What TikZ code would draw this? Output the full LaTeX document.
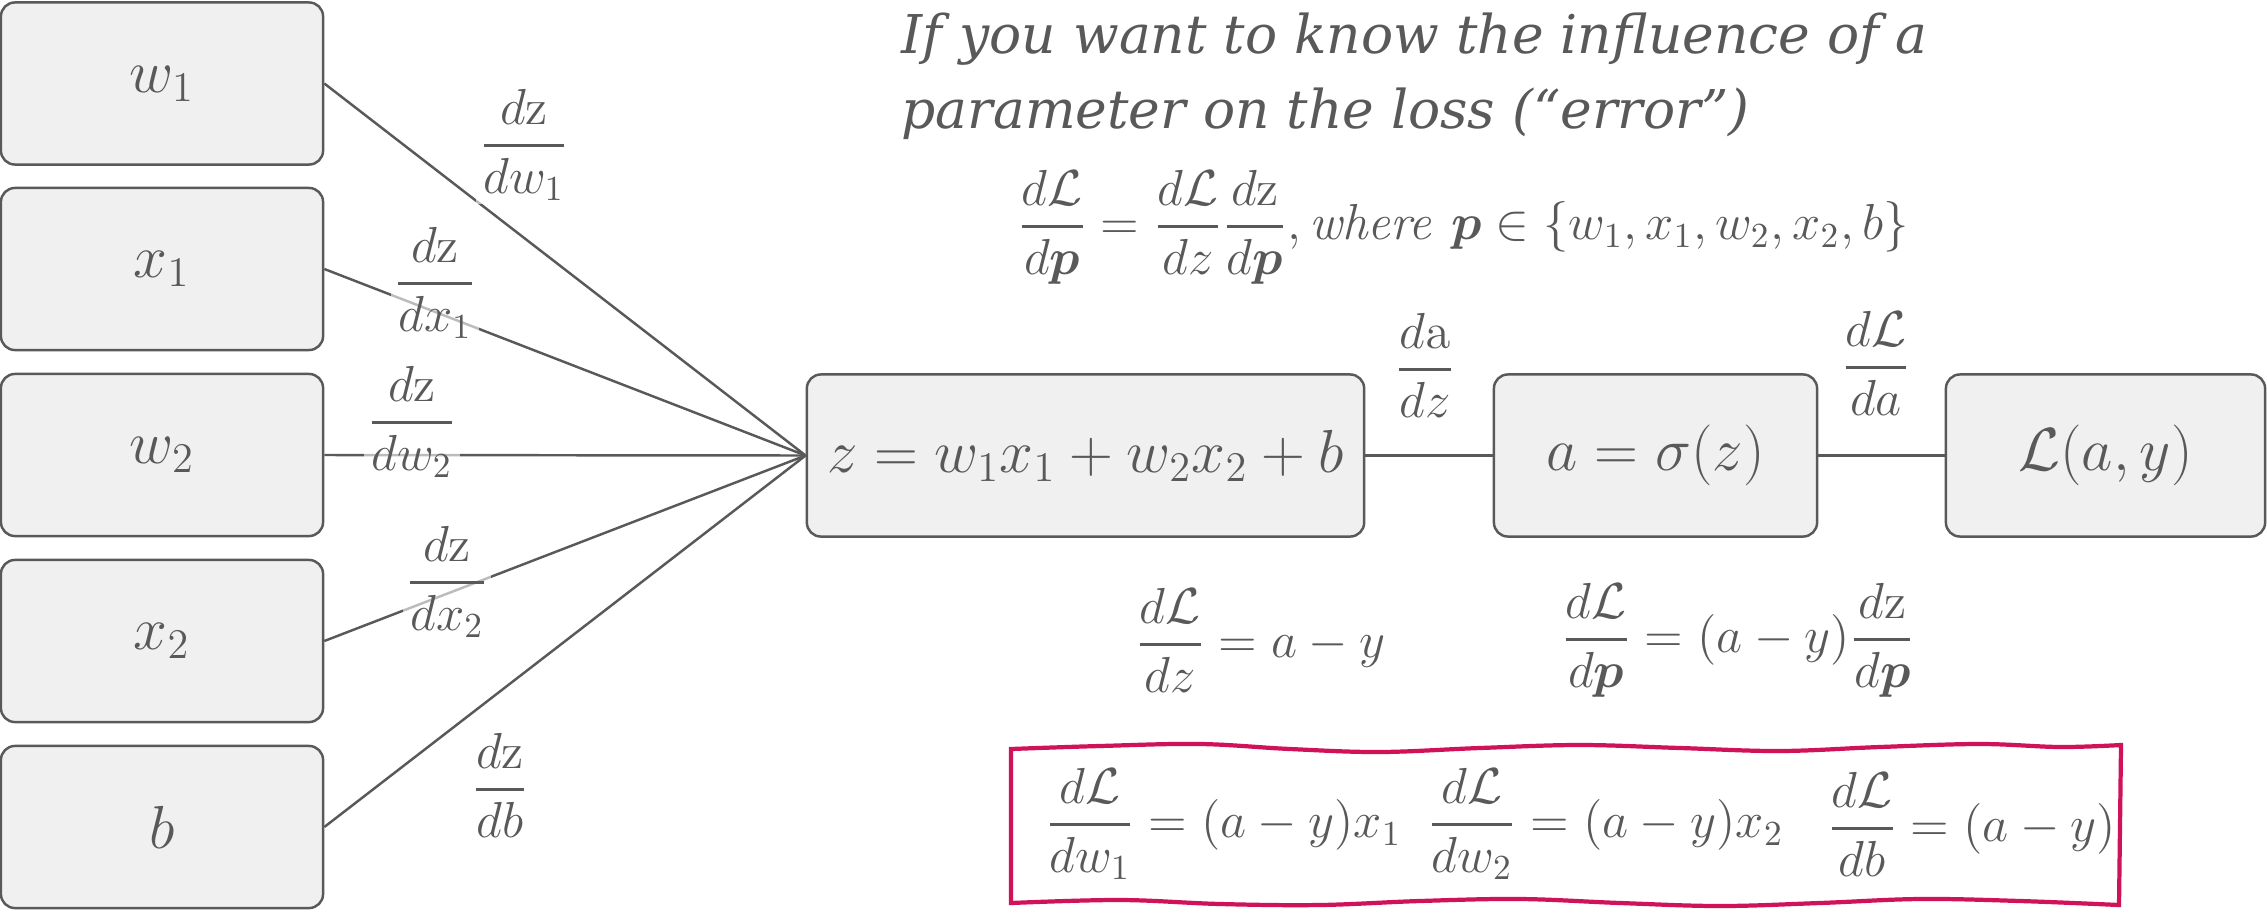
\documentclass[tikz,border=0pt]{standalone}
\usepackage{amsmath,amssymb}
\usepackage[no-math]{fontspec}
\setmainfont{DejaVu Serif}
\usepackage{tikz}
\definecolor{inkgray}{RGB}{89,89,89}
\definecolor{boxfill}{RGB}{240,240,240}
\definecolor{marker}{RGB}{208,18,88}
\newcommand{\pfrac}[2]{\genfrac{}{}{0.8pt}{0}{#1}{#2}}

\begin{document}
\begin{tikzpicture}[
  x=0.01cm,y=-0.01cm,
  color=inkgray,
  var/.style={draw=inkgray,fill=boxfill,rounded corners=0.14cm,line width=0.7pt,
    minimum width=3.22cm,minimum height=1.62cm,inner sep=0pt,font=\fontsize{16.5}{20}\selectfont},
  wire/.style={draw=inkgray,line width=0.7pt},
  grad/.style={font=\fontsize{14}{17}\selectfont,fill=white,fill opacity=0.6,text opacity=1,inner sep=1pt},
  eq/.style={font=\fontsize{14}{17}\selectfont,inner sep=0pt},
  head/.style={font=\fontsize{15.2}{19}\selectfont\itshape,inner sep=0pt},
  frame/.style={draw=marker,line width=1.2pt,fill=white}
]
  \useasboundingbox (0,0) rectangle (2267,912);

  % inputs and parameters
  \node[var] (w1) at (162,83.5) {$w_1$};
  \node[var] (x1) at (162,269) {$x_1$};
  \node[var] (w2) at (162,455) {$w_2$};
  \node[var] (x2) at (162,641) {$x_2$};
  \node[var] (b) at (162,827) {$b$};

  % forward chain
  \node[var,minimum width=5.57cm] (zsum) at (1085.5,455.5) {$z = w_1x_1 + w_2x_2 + b$};
  \node[var,minimum width=3.23cm] (act) at (1655.5,455.5) {$a = \sigma(z)$};
  \node[var,minimum width=3.19cm] (loss) at (2105.5,455.5) {$\mathcal{L}(a,y)$};

  \foreach \v in {w1,x1,w2,x2,b} \draw[wire] (\v.east) -- (zsum.west);
  \draw[wire] (zsum.east) -- (act.west);
  \draw[wire] (act.east) -- (loss.west);

  % local derivatives
  \node[grad] (gw1) at (524,145) {$\pfrac{d\mathrm{z}}{dw_1}$};
  \node[grad] (gx1) at (435,283) {$\pfrac{d\mathrm{z}}{dx_1}$};
  \node[grad] (gw2) at (412,422) {$\pfrac{d\mathrm{z}}{dw_2}$};
  \node[grad] (gx2) at (447,582) {$\pfrac{d\mathrm{z}}{dx_2}$};
  \node[grad] (gb) at (500,785) {$\pfrac{d\mathrm{z}}{db}$};
  \node[grad] (gz) at (1425,365) {$\pfrac{d\mathrm{a}}{dz}$};
  \node[grad] (ga) at (1876,363) {$\pfrac{d\mathcal{L}}{da}$};

  \node[head,anchor=base west] (head1) at (901,53) {If you want to know the influence of a};
  \node[head,anchor=base west] (head2) at (901,128) {parameter on the loss (“error”)};
  \node[eq,anchor=west] (chain) at (1017,227)
    {$\pfrac{d\mathcal{L}}{d\boldsymbol{p}} = \pfrac{d\mathcal{L}}{dz}\pfrac{d\mathrm{z}}{d\boldsymbol{p}}, \mathit{where}\ \boldsymbol{p} \in \{w_1, x_1, w_2, x_2, b\}$};

  \node[eq,anchor=west] (dLdz) at (1135,640) {$\pfrac{d\mathcal{L}}{dz} = a - y$};
  \node[eq,anchor=west] (dLdp) at (1561,640) {$\pfrac{d\mathcal{L}}{d\boldsymbol{p}} = (a-y)\pfrac{d\mathrm{z}}{d\boldsymbol{p}}$};

  % result
  \draw[frame] plot[smooth,tension=0.6] coordinates {(1011,749) (1100,746) (1200,744) (1290,749)
      (1380,752) (1480,748) (1580,745) (1680,748) (1780,751) (1880,747) (1980,744) (2060,747) (2121,745)}
    -- plot[smooth,tension=0.6] coordinates {(2119,905) (2020,901) (1920,899) (1820,903) (1720,906)
      (1620,903) (1520,899) (1420,901) (1320,905) (1220,904) (1120,900) (1011,903)} -- cycle;
  \node[eq,anchor=west] (rw1) at (1045,824) {$\pfrac{d\mathcal{L}}{dw_1} = (a-y)x_1$};
  \node[eq,anchor=west] (rw2) at (1427,824) {$\pfrac{d\mathcal{L}}{dw_2} = (a-y)x_2$};
  \node[eq,anchor=west] (rb) at (1827,824) {$\pfrac{d\mathcal{L}}{db} = (a-y)$};
\end{tikzpicture}
\end{document}
